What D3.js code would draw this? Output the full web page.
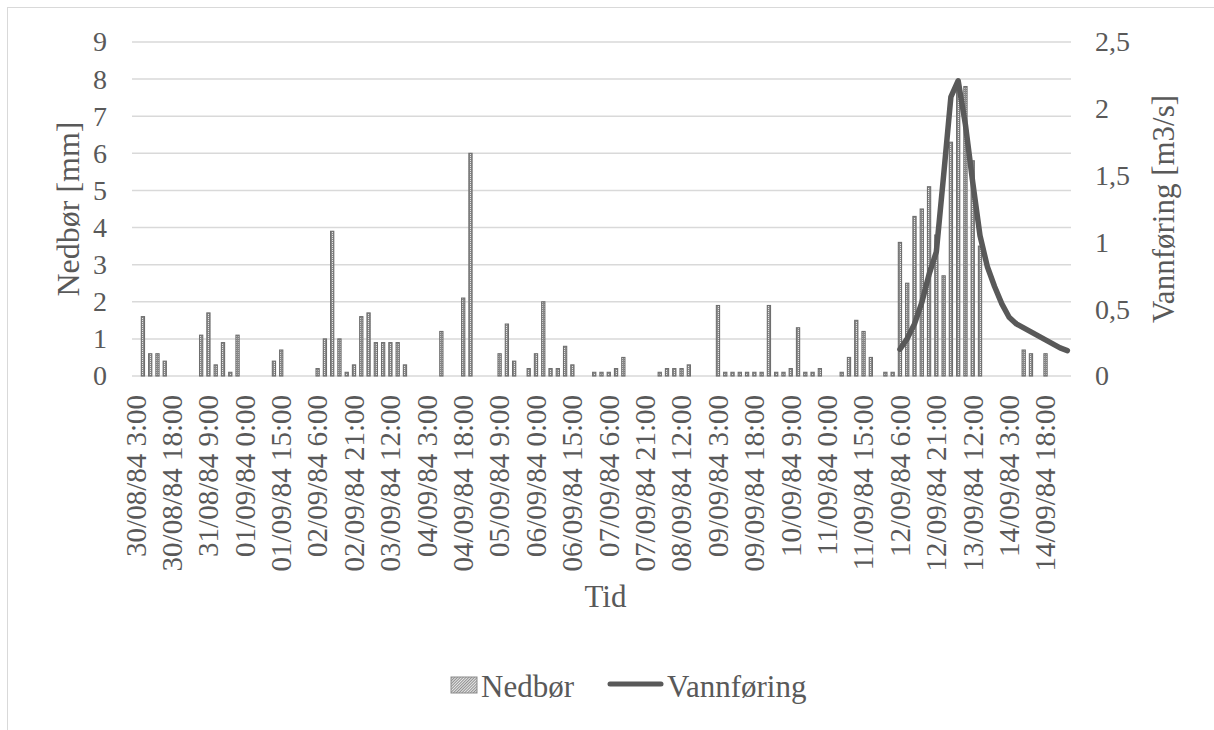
<!DOCTYPE html>
<html>
<head>
<meta charset="utf-8">
<script src="https://cdn.jsdelivr.net/npm/d3@7/dist/d3.min.js"></script>
<style>
  html, body { margin: 0; padding: 0; background: #ffffff; }
  svg { display: block; }
  text { font-family: "Liberation Serif", "Times New Roman", Tinos, "DejaVu Serif", serif; fill: #595959; }
</style>
</head>
<body>
<svg id="chart" width="1214" height="730"></svg>
<script>
// ---------- DATA ----------
// Category labels shown on the x axis (every 5th 3-hour step)
const tickLabels = [
  "30/08/84 3:00", "30/08/84 18:00", "31/08/84 9:00", "01/09/84 0:00", "01/09/84 15:00",
  "02/09/84 6:00", "02/09/84 21:00", "03/09/84 12:00", "04/09/84 3:00", "04/09/84 18:00",
  "05/09/84 9:00", "06/09/84 0:00", "06/09/84 15:00", "07/09/84 6:00", "07/09/84 21:00",
  "08/09/84 12:00", "09/09/84 3:00", "09/09/84 18:00", "10/09/84 9:00", "11/09/84 0:00",
  "11/09/84 15:00", "12/09/84 6:00", "12/09/84 21:00", "13/09/84 12:00", "14/09/84 3:00",
  "14/09/84 18:00"
];

// Precipitation (mm) per 3-hour category, 129 categories
const nedbor = [
  0, 1.6, 0.6, 0.6, 0.4, 0, 0, 0, 0, 1.1,
  1.7, 0.3, 0.9, 0.1, 1.1, 0, 0, 0, 0, 0.4,
  0.7, 0, 0, 0, 0, 0.2, 1.0, 3.9, 1.0, 0.1,
  0.3, 1.6, 1.7, 0.9, 0.9, 0.9, 0.9, 0.3, 0, 0,
  0, 0, 1.2, 0, 0, 2.1, 6.0, 0, 0, 0,
  0.6, 1.4, 0.4, 0, 0.2, 0.6, 2.0, 0.2, 0.2, 0.8,
  0.3, 0, 0, 0.1, 0.1, 0.1, 0.2, 0.5, 0, 0,
  0, 0, 0.1, 0.2, 0.2, 0.2, 0.3, 0, 0, 0,
  1.9, 0.1, 0.1, 0.1, 0.1, 0.1, 0.1, 1.9, 0.1, 0.1,
  0.2, 1.3, 0.1, 0.1, 0.2, 0, 0, 0.1, 0.5, 1.5,
  1.2, 0.5, 0, 0.1, 0.1, 3.6, 2.5, 4.3, 4.5, 5.1,
  3.8, 2.7, 6.3, 7.9, 7.8, 5.8, 3.5, 0, 0, 0,
  0, 0, 0.7, 0.6, 0, 0.6, 0, 0, 0
];

// Discharge (m3/s): no values before 12/09/84 6:00 (index 105)
const vannforingMeasured = [
  0.20, 0.28, 0.39, 0.55, 0.76, 0.93, 1.50, 2.09, 2.21, 1.88,
  1.45, 1.05, 0.82, 0.67, 0.54, 0.44, 0.39, 0.36, 0.33, 0.30,
  0.27, 0.24, 0.21, 0.19
];
const vannforing = new Array(nedbor.length - vannforingMeasured.length).fill(null).concat(vannforingMeasured);

const leftTicks = [0, 1, 2, 3, 4, 5, 6, 7, 8, 9];
const rightTicks = [0, 0.5, 1, 1.5, 2, 2.5];

// Category names: 3-hour steps from 30/08/84 3:00
const pad2 = n => (n < 10 ? "0" : "") + n;
const categories = nedbor.map((_, i) => {
  const t = new Date(Date.UTC(1984, 7, 30, 3) + i * 3 * 3600 * 1000);
  return pad2(t.getUTCDate()) + "/" + pad2(t.getUTCMonth() + 1) + "/" +
         String(t.getUTCFullYear()).slice(2) + " " + t.getUTCHours() + ":00";
});

// ---------- LAYOUT ----------
const FONT = "'Liberation Serif', 'Times New Roman', Tinos, 'DejaVu Serif', serif";
const plot = { left: 132, right: 1071, top: 42, bottom: 376 };
const svg = d3.select("#chart");

// chart border
svg.append("rect")
  .attr("x", 7.5).attr("y", 7.5).attr("width", 1230).attr("height", 760)
  .attr("fill", "none").attr("stroke", "#d9d9d9").attr("stroke-width", 1);

// patterns
const defs = svg.append("defs");
const pat = defs.append("pattern").attr("id", "dots")
  .attr("patternUnits", "userSpaceOnUse").attr("width", 2).attr("height", 2);
pat.append("rect").attr("width", 2).attr("height", 2).attr("fill", "#8a8a8a");
pat.append("rect").attr("width", 1).attr("height", 1).attr("fill", "#e6e6e6");

const pat2 = defs.append("pattern").attr("id", "legendHatch")
  .attr("patternUnits", "userSpaceOnUse").attr("width", 2).attr("height", 2)
  .attr("patternTransform", "rotate(45)");
pat2.append("rect").attr("width", 2).attr("height", 2).attr("fill", "#e8e8e8");
pat2.append("rect").attr("width", 1).attr("height", 2).attr("fill", "#8f8f8f");

// scales
const x = d3.scaleBand().domain(categories).range([plot.left, plot.right]).padding(0);
const yL = d3.scaleLinear().domain([0, 9]).range([plot.bottom, plot.top]);
const yR = d3.scaleLinear().domain([0, 2.5]).range([plot.bottom, plot.top]);
const step = x.bandwidth();
const barW = step * 0.58;

// gridlines
svg.append("g").selectAll("line").data(leftTicks).join("line")
  .attr("x1", plot.left).attr("x2", plot.right)
  .attr("y1", d => yL(d)).attr("y2", d => yL(d))
  .attr("stroke", "#d9d9d9").attr("stroke-width", 1.5);

// bars
svg.append("g").selectAll("rect")
  .data(categories.map((c, i) => ({ c, v: nedbor[i] })).filter(d => d.v > 0))
  .join("rect")
  .attr("x", d => x(d.c) + (step - barW) / 2 + 0.5)
  .attr("width", barW - 1)
  .attr("y", d => yL(d.v))
  .attr("height", d => yL(0) - yL(d.v))
  .attr("fill", "url(#dots)")
  .attr("stroke", "#6e6e6e").attr("stroke-width", 1.1);

// line
const lineData = categories.map((c, i) => ({ c, v: vannforing[i] }));
const line = d3.line()
  .defined(d => d.v != null)
  .x(d => x(d.c) + step / 2)
  .y(d => yR(d.v));
svg.append("path").datum(lineData)
  .attr("d", line)
  .attr("fill", "none").attr("stroke", "#595959")
  .attr("stroke-width", 5.5).attr("stroke-linejoin", "round").attr("stroke-linecap", "round");

// left axis
const axL = svg.append("g").attr("transform", `translate(${plot.left},0)`)
  .call(d3.axisLeft(yL).tickValues(leftTicks).tickSize(0).tickPadding(25));
axL.attr("font-family", null);
axL.select(".domain").remove();
axL.selectAll("text").style("font-size", "28px").attr("fill", "#595959")
  .style("font-family", FONT);

// right axis
const axR = svg.append("g").attr("transform", `translate(${plot.right},0)`)
  .call(d3.axisRight(yR).tickValues(rightTicks).tickSize(0).tickPadding(24)
    .tickFormat(d => String(d).replace(".", ",")));
axR.attr("font-family", null);
axR.select(".domain").remove();
axR.selectAll("text").style("font-size", "28px").attr("fill", "#595959")
  .style("font-family", FONT);

// x axis
const axX = svg.append("g").attr("transform", `translate(0,${plot.bottom})`)
  .call(d3.axisBottom(x).tickValues(tickLabels).tickSize(0));
axX.attr("font-family", null);
axX.select(".domain").remove();
axX.selectAll("text")
  .style("font-size", "29px").attr("fill", "#595959")
  .style("font-family", FONT)
  .attr("transform", "rotate(-90)")
  .attr("text-anchor", "end")
  .attr("x", -19).attr("y", 0).attr("dy", "0.34em");

// axis titles
svg.append("text")
  .attr("transform", `translate(79,${(plot.top + plot.bottom) / 2}) rotate(-90)`)
  .attr("text-anchor", "middle").style("font-size", "32px").text("Nedbør [mm]");
svg.append("text")
  .attr("transform", `translate(1174,${(plot.top + plot.bottom) / 2}) rotate(-90)`)
  .attr("text-anchor", "middle").style("font-size", "31px")
  .text("Vannføring [m3/s]");
svg.append("text")
  .attr("x", (plot.left + plot.right) / 2 + 4).attr("y", 607)
  .attr("text-anchor", "middle").style("font-size", "31px").text("Tid");

// legend
const leg = svg.append("g");
leg.append("rect").attr("x", 451).attr("y", 677).attr("width", 26).attr("height", 16)
  .attr("fill", "url(#legendHatch)").attr("stroke", "#8c8c8c").attr("stroke-width", 1);
leg.append("text").attr("x", 481).attr("y", 697).style("font-size", "31px").text("Nedbør");
leg.append("line").attr("x1", 610).attr("x2", 661).attr("y1", 684).attr("y2", 684)
  .attr("stroke", "#595959").attr("stroke-width", 5).attr("stroke-linecap", "round");
leg.append("text").attr("x", 667).attr("y", 697).style("font-size", "31px").text("Vannføring");
</script>
</body>
</html>
